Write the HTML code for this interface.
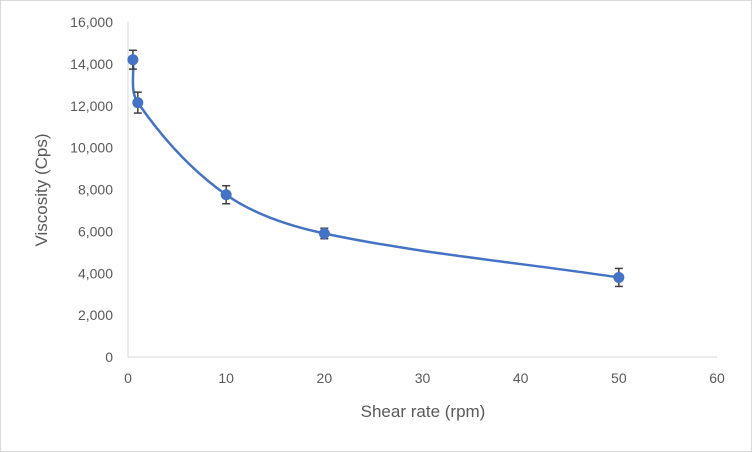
<!DOCTYPE html>
<html><head><meta charset="utf-8"><style>
body{margin:0;background:#fff;}
svg{display:block;font-family:"Liberation Sans",Arial,sans-serif;}
</style></head><body>
<svg id="chart" width="752" height="452">
<rect x="0.5" y="0.5" width="751" height="451" fill="#fff" stroke="#d9d9d9"/>
<g id="axes"></g><g id="series"></g>
<text x="423" y="417" font-size="17" fill="#595959" text-anchor="middle">Shear rate (rpm)</text>
<text transform="translate(47,190) rotate(-90)" font-size="17" fill="#595959" text-anchor="middle">Viscosity (Cps)</text>
</svg>
<script>
const xValues=[0.5,1,10,20,50];
const yValues=[14200,12150,7750,5900,3800];
const yErrors=[450,500,430,250,430];
const xTicks=[0,10,20,30,40,50,60];
const yTicks=[0,2000,4000,6000,8000,10000,12000,14000,16000];
const NS="http://www.w3.org/2000/svg";
const X0=128,X1=717,Y0=357,Y1=22;
const sx=v=>X0+(v-0)/(60-0)*(X1-X0);
const sy=v=>Y0-(v/16000)*(Y0-Y1);
function mk(t,a,p){const e=document.createElementNS(NS,t);for(const k in a)e.setAttribute(k,a[k]);p.appendChild(e);return e;}
const ax=document.getElementById('axes'),se=document.getElementById('series');
const xl=mk('line',{x1:X0,x2:X1,y1:Y0,y2:Y0,stroke:'#d9d9d9'},ax);


const yl=mk('line',{x1:X0,x2:X0,y1:Y0,y2:Y1,stroke:'#d9d9d9'},ax);


xTicks.forEach(t=>{
 const e=mk('text',{x:sx(t),y:Y0+26,'font-size':14,fill:'#595959','text-anchor':'middle'},ax);e.textContent=t;
 
 
});
yTicks.forEach(t=>{
 const e=mk('text',{x:X0-15,y:sy(t)+5,'font-size':14,fill:'#595959','text-anchor':'end'},ax);e.textContent=t.toLocaleString('en-US');
 
 
});
const P=xValues.map((x,i)=>[sx(x),sy(yValues[i])]);
const n=P.length;
const L=i=>Math.hypot(P[i+1][0]-P[i][0],P[i+1][1]-P[i][1]);
function unitT(i){
 const a=P[Math.max(i-1,0)],b=P[Math.min(i+1,n-1)];
 const dx=b[0]-a[0],dy=b[1]-a[1],h=Math.hypot(dx,dy);
 return [dx/h,dy/h];
}
let d='M'+P[0][0]+','+P[0][1];
for(let i=0;i<n-1;i++){
 const T1=unitT(i),T2=unitT(i+1),k=L(i)/3;
 d+=` C${P[i][0]+T1[0]*k},${P[i][1]+T1[1]*k} ${P[i+1][0]-T2[0]*k},${P[i+1][1]-T2[1]*k} ${P[i+1][0]},${P[i+1][1]}`;
}
const ln=mk('path',{d:d,fill:'none',stroke:'#4472c4','stroke-width':2.5},se);


xValues.forEach((x,i)=>{
 const cx=sx(x),yt=sy(yValues[i]+yErrors[i]),yb=sy(yValues[i]-yErrors[i]);
 const g=mk('g',{stroke:'#404040','stroke-width':1.5},se);
 
 
 mk('line',{x1:cx,x2:cx,y1:yt,y2:yb},g);
 mk('line',{x1:cx-4,x2:cx+4,y1:yt,y2:yt},g);
 mk('line',{x1:cx-4,x2:cx+4,y1:yb,y2:yb},g);
 const c=mk('circle',{cx:cx,cy:sy(yValues[i]),r:5,fill:'#4472c4',stroke:'#4472c4'},se);
 
 
});
</script>
</body></html>
